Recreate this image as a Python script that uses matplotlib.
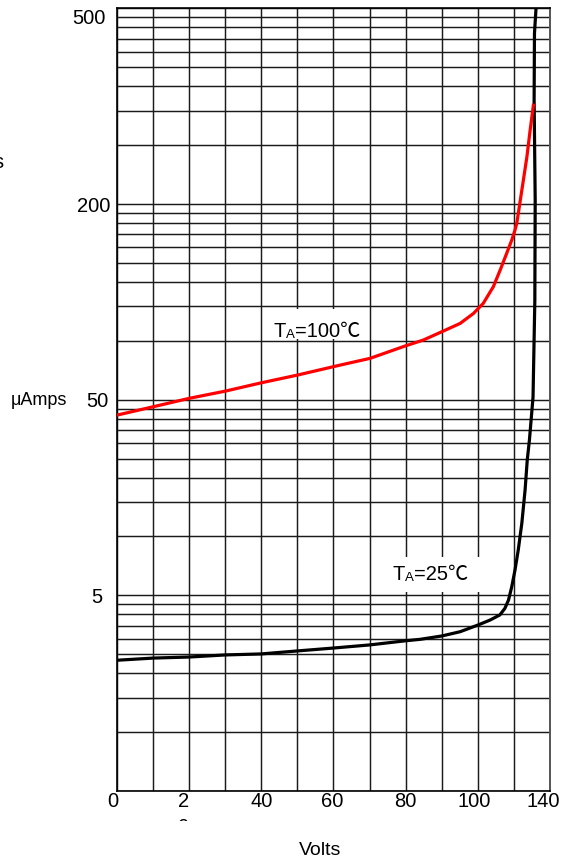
import matplotlib
matplotlib.use("Agg")
import matplotlib.pyplot as plt
from matplotlib.patches import Rectangle
from matplotlib.ticker import FixedFormatter, FixedLocator, LogLocator, MultipleLocator, NullFormatter
from matplotlib.transforms import Bbox, ScaledTranslation, TransformedBbox

plt.rcParams["font.family"] = ["Liberation Sans", "Noto Sans CJK SC", "DejaVu Sans"]

# curves (volts, current on the sheet's log scale)
volts_100 = [0, 10, 20, 30, 40, 50, 61.8, 70.1, 79.8, 84.9, 90.0, 95.1, 98.8, 101.5,
             104.3, 106.2, 108.0, 109.4, 110.3, 110.8, 112.2, 113.6, 114.5, 115.4]
amps_100 = [41.7, 46.0, 50.8, 55.3, 61.0, 66.8, 75.1, 81.3, 94.0, 100.9, 111.2, 122.7, 138, 155.3,
            189, 230, 280, 327, 368, 399, 589, 871, 1193, 1600]

volts_25 = [0, 10, 20, 30, 40, 50, 60, 70, 80, 84.0, 90.0, 95.1, 100.1, 103.4, 106.1,
            107.5, 108.5, 109.4, 110.3, 111.2, 112.2, 113.1, 113.7, 114.3, 115.3,
            115.8, 115.9, 115.6, 115.7, 116.1]
amps_25 = [2.33, 2.39, 2.42, 2.48, 2.51, 2.60, 2.69, 2.79, 2.93, 2.98, 3.10, 3.26, 3.53, 3.74, 3.97,
           4.29, 4.73, 5.53, 6.73, 8.52, 11.7, 17.3, 24.6, 31.1, 51.5,
           161, 523, 1697, 3730, 4900]

x_ticks = [0, 20, 40, 60, 80, 100, 120]
x_tick_labels = ["0", "2\n0", "40", "60", "80", "100", "140"]
y_ticks = [5, 50, 500, 4560]
y_tick_labels = ["5", "50", "200", "500"]

fig = plt.figure(figsize=(5.67, 8.63), dpi=100)
ax = fig.add_axes([0.2063, 0.0834, 0.7637, 0.9069])
ax.set_yscale("log")
ax.set_xlim(0, 120)
ax.set_ylim(0.5, 5000)

ax.xaxis.set_major_locator(FixedLocator(x_ticks))
ax.xaxis.set_major_formatter(FixedFormatter(x_tick_labels))
ax.xaxis.set_minor_locator(MultipleLocator(10))
ax.yaxis.set_major_locator(FixedLocator(y_ticks))
ax.yaxis.set_major_formatter(FixedFormatter(y_tick_labels))
ax.yaxis.set_minor_locator(LogLocator(base=10, subs=[0.5, 1, 1.5, 2, 2.5, 3, 3.5, 4, 4.5], numticks=30))
ax.yaxis.set_minor_formatter(NullFormatter())
ax.xaxis.remove_overlapping_locs = False
ax.yaxis.remove_overlapping_locs = False

ax.grid(False, which="major")
ax.grid(True, which="minor", color="#1a1a1a", linewidth=1.05)
ax.tick_params(which="both", length=0, labelsize=14.5)
ax.tick_params(axis="x", pad=1)
ax.tick_params(axis="y", pad=5)
for side in ("left", "bottom", "top"):
    ax.spines[side].set_color("black")
    ax.spines[side].set_linewidth(1.2)
ax.spines["right"].set_color("#555555")
ax.spines["right"].set_linewidth(1.4)

# shift some tick labels like in the scan
x_shift = [-4, -6, 0, -1, 0, -4, -7]
for lab, dx in zip(ax.get_xticklabels(), x_shift):
    lab.set_transform(lab.get_transform() + ScaledTranslation(dx / 100, 0, fig.dpi_scale_trans))
twenty = ax.get_xticklabels()[1]
twenty.set_linespacing(1.45)
twenty.set_clip_on(True)
twenty.set_clip_box(TransformedBbox(Bbox.from_extents(0, 42 / 863, 1, 1), fig.transFigure))

y_shift = [-8, -2, 0, -4]
for lab, dx in zip(ax.get_yticklabels(), y_shift):
    lab.set_transform(lab.get_transform() + ScaledTranslation(dx / 100, 0, fig.dpi_scale_trans))

ax.plot(volts_25, amps_25, color="black", linewidth=2.3, solid_joinstyle="round", zorder=3)
ax.plot(volts_100, amps_100, color="#ff0000", linewidth=2.3, solid_joinstyle="round", zorder=3)

# white label boxes that blank the grid
ax.add_patch(Rectangle((0.351, 0.5775), 0.229, 0.0385, transform=ax.transAxes,
                       facecolor="white", edgecolor="none", zorder=1.8))
ax.add_patch(Rectangle((0.607, 0.254), 0.25, 0.045, transform=ax.transAxes,
                       facecolor="white", edgecolor="none", zorder=1.8))


def temp_label(x, y, rest):
    t1 = ax.text(x, y, "T", transform=ax.transAxes, fontsize=14.5, va="baseline", ha="left", zorder=4)
    t2 = ax.annotate("A", xy=(1, 0), xycoords=t1, fontsize=9.5, va="bottom", ha="left", zorder=4)
    ax.annotate(rest, xy=(1, 0), xycoords=(t2, t1), fontsize=14.5, va="bottom", ha="left", zorder=4)


temp_label(0.3626, 0.5804, "=100℃")
temp_label(0.6374, 0.2696, "=25℃")

fig.text(0.118, 0.5307, "μAmps", ha="right", va="baseline", fontsize=13)
fig.text(0.006, 0.805, "s", ha="right", va="baseline", fontsize=14.5)
fig.text(0.5644, 0.0093, "Volts", ha="center", va="baseline", fontsize=14)

fig.savefig("out.png", dpi=100)
